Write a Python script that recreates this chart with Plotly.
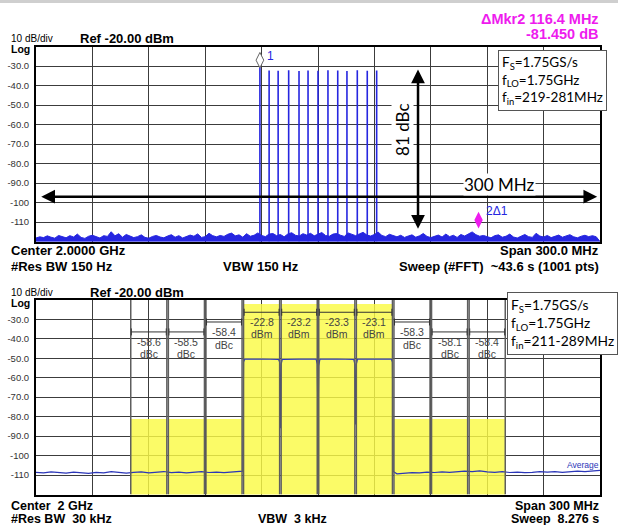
import plotly.graph_objects as go

# ---------------- data: top chart (multitone FFT sweep) ----------------
top_span = [1850, 2150]            # MHz  (center 2.0 GHz, span 300 MHz)
y_ticks = [-30, -40, -50, -60, -70, -80, -90, -100, -110]
y_tick_text = ["-30.0", "-40.0", "-50.0", "-60.0", "-70.0", "-80.0", "-90.0", "-100", "-110"]

tone_freq = [1969.1, 1974.0, 1978.8, 1984.4, 1989.9, 1994.7, 2000.0,
             2005.3, 2010.5, 2015.4, 2020.9, 2026.2, 2031.2]
tone_peak = [-30.6, -32.3, -32.4, -32.2, -32.5, -32.3, -32.4,
             -32.2, -32.3, -32.5, -32.2, -32.4, -32.3]

top_noise = [
    -118.2, -117.6, -118.0, -117.1, -117.8, -118.3, -116.9, -117.5, -118.1, -117.0,
    -117.7, -116.2, -117.9, -118.4, -117.3, -116.8, -117.6, -118.2, -117.0, -117.4,
    -115.0, -117.1, -116.0, -117.8, -116.4, -117.2, -118.0, -117.5, -116.6, -117.9,
    -118.3, -117.4, -116.9, -117.7, -118.1, -117.2, -116.5, -117.8, -117.0, -118.2,
    -117.6, -116.7, -117.3, -116.1, -117.9, -117.5, -115.8, -117.0, -117.6, -116.9,
    -117.4, -116.3, -115.7, -117.1, -116.6, -117.8, -116.0, -117.3, -116.8, -115.6,
    -116.9, -117.5, -116.2, -115.9, -117.0, -116.4, -117.6, -116.1, -115.5, -116.8,
    -117.2, -116.0, -116.7, -115.8, -117.1, -116.3, -115.4, -116.9, -117.3, -116.2,
    -115.9, -116.8, -117.4, -115.6, -116.5, -117.0, -116.1, -115.3, -116.7, -117.2,
    -116.4, -115.2, -116.9, -117.5, -116.3, -117.0, -117.6, -116.8, -117.9, -117.2,
    -116.6, -117.8, -117.1, -115.9, -117.4, -118.0, -117.3, -116.7, -117.7, -116.2,
    -117.5, -116.8, -117.9, -116.4, -117.2, -116.0, -115.1, -116.5, -117.3, -116.9,
    -117.6, -118.1, -117.0, -116.6, -117.8, -117.3, -116.2, -117.7, -118.2, -117.1,
    -116.4, -117.5, -117.9, -115.8, -117.2, -117.7, -116.9, -118.0, -117.4, -116.7,
    -117.8, -117.1, -116.5, -117.6, -118.1, -117.3, -116.8, -117.5, -117.0, -117.6,
]
top_noise_step = 2.0  # MHz between noise samples

mkr1 = (1969.1, -27.0)
mkr2 = (2085.4, -109.0)
dbc_arrow = (2053.2, -31.0, -113.5)      # x, top, bottom
span_arrow = (1852.0, 2148.5, -97.0)     # x0, x1, level

# ---------------- data: bottom chart (ACLR, 4 carriers) ----------------
chan_start = [1900, 1920, 1940, 1960, 1980, 2000, 2020, 2040, 2060, 2080]
chan_bw = 20.0
chan_bar_top = [-81.0, -81.0, -81.0, -21.8, -21.8, -21.8, -21.8, -81.0, -81.0, -81.0]
chan_value = ["-58.6", "-58.5", "-58.4", "-22.8", "-23.2", "-23.3", "-23.1", "-58.3", "-58.1", "-58.4"]
chan_unit = ["dBc", "dBc", "dBc", "dBm", "dBm", "dBm", "dBm", "dBc", "dBc", "dBc"]

low_noise = [-108.6, -108.9, -108.4, -108.8, -109.0, -108.5, -108.7, -109.1, -108.6, -108.9,
             -108.3, -108.8, -109.0, -108.6, -108.4, -108.9, -108.7, -108.2, -108.8, -108.5,
             -108.9, -108.6, -108.3, -108.7, -108.5, -108.8, -108.4, -107.9]
carrier_f = [1960.0, 1960.4, 1961.0, 1970.0, 1979.0, 1979.6, 1980.0, 1980.4, 1981.0, 1990.0,
             1999.0, 1999.6, 2000.0, 2000.4, 2001.0, 2010.0, 2019.0, 2019.6, 2020.0, 2020.4,
             2021.0, 2030.0, 2039.0, 2039.6, 2040.0]
carrier_db = [-108.0, -52.0, -50.5, -50.4, -50.6, -52.0, -86.0, -53.0, -50.6, -50.5,
              -50.5, -53.0, -87.0, -54.0, -50.5, -50.4, -50.6, -53.0, -84.0, -53.0,
              -50.5, -50.5, -50.4, -52.0, -108.2]
high_noise = [-109.4, -109.0, -108.8, -108.9, -108.5, -108.7, -108.4, -108.6, -108.2, -108.0,
              -108.3, -107.9, -108.4, -108.6, -108.3, -108.7, -108.5, -108.8, -108.6, -108.3,
              -108.5, -108.2, -108.6, -108.4, -108.0, -108.3, -107.8, -107.6]
noise_step = 4.0

# ---------------- layout helpers ----------------
W, H = 618, 525
def px(x):
    return x / W
def py(y):
    return 1 - y / H

X0, X1 = 36, 600
TOP1, BOT1 = 46.5, 241.5
TOP2, BOT2 = 299.8, 494.5

FONT = "Liberation Sans, Arial, sans-serif"
FONT2 = "Lato, Open Sans, sans-serif"
BLUE = "#2626e0"
DBLUE = "#2b36b8"
MAG = "#ee1bee"

fig = go.Figure()

# ---- top: noise floor (filled) ----
nf = [top_span[0] + top_noise_step * i for i in range(len(top_noise))]
fig.add_trace(go.Scatter(
    x=nf + [top_span[1], top_span[0]], y=top_noise + [-120, -120],
    fill="toself", fillcolor=BLUE, mode="lines",
    line=dict(color=BLUE, width=1), xaxis="x", yaxis="y", hoverinfo="skip"))

# ---- top: tones ----
tx, ty = [], []
for f, p in zip(tone_freq, tone_peak):
    tx += [f, f, None]
    ty += [-120, p, None]
fig.add_trace(go.Scatter(x=tx, y=ty, mode="lines", line=dict(color=BLUE, width=1.6),
                         xaxis="x", yaxis="y", hoverinfo="skip"))

# ---- top: markers ----
fig.add_trace(go.Scatter(x=[mkr1[0]], y=[mkr1[1]], mode="markers",
                         marker=dict(symbol="diamond-tall", size=11, color="white",
                                     line=dict(color="#666666", width=1)),
                         xaxis="x", yaxis="y", hoverinfo="skip"))
fig.add_trace(go.Scatter(x=[mkr2[0]], y=[mkr2[1]], mode="markers",
                         marker=dict(symbol="diamond-tall", size=12, color=MAG,
                                     line=dict(color=MAG, width=0)),
                         xaxis="x", yaxis="y", hoverinfo="skip"))

# ---- bottom: yellow channel bars ----
centers = [s + chan_bw / 2 for s in chan_start]
fig.add_trace(go.Bar(x=centers, y=[t + 120 for t in chan_bar_top], base=-120,
                     width=chan_bw - 0.8,
                     marker=dict(color="rgba(250,250,70,0.82)", line=dict(width=0)),
                     xaxis="x2", yaxis="y2", hoverinfo="skip"))

# ---- bottom: trace ----
lf = [top_span[0] + noise_step * i for i in range(len(low_noise))]
hf = [2042 + noise_step * i for i in range(len(high_noise))]
fig.add_trace(go.Scatter(x=lf + carrier_f + hf, y=low_noise + carrier_db + high_noise,
                         mode="lines", line=dict(color=DBLUE, width=1.2),
                         xaxis="x2", yaxis="y2", hoverinfo="skip"))

# ---- bottom: channel edge lines ----
lx, ly = [], []
for s in chan_start:
    for f in (s + 0.4, s + chan_bw - 0.4):
        lx += [f, f, None]
        ly += [-120, -20, None]
fig.add_trace(go.Scatter(x=lx, y=ly, mode="lines", line=dict(color="#5e5e5e", width=1.5),
                         xaxis="x2", yaxis="y2", hoverinfo="skip"))

# ---- bottom: brackets + labels ----
annotations = []
for i, s in enumerate(chan_start):
    c = s + chan_bw / 2
    if chan_unit[i] == "dBm":
        lvl, t1, t2 = -26.4, -31.6, -37.4
    elif s in (1940, 2040):
        lvl, t1, t2 = -31.4, -36.5, -43.2
    else:
        lvl, t1, t2 = -36.5, -41.9, -47.9
    fig.add_trace(go.Scatter(x=[s + 0.7, s + chan_bw - 0.7], y=[lvl, lvl], mode="lines+markers",
                             line=dict(color="#333333", width=1),
                             marker=dict(symbol="line-ns", size=5, line=dict(color="#333333", width=1)),
                             xaxis="x2", yaxis="y2", hoverinfo="skip"))
    annotations.append(dict(x=c, y=t1, xref="x2", yref="y2", text=chan_value[i], showarrow=False,
                            font=dict(family=FONT, size=10.5, color="#444444")))
    annotations.append(dict(x=c, y=t2, xref="x2", yref="y2", text=chan_unit[i], showarrow=False,
                            font=dict(family=FONT, size=10.5, color="#444444")))

# ---- top annotations: arrows ----
for (xa, ya, xb, yb) in [(dbc_arrow[0], dbc_arrow[2], dbc_arrow[0], dbc_arrow[1]),
                         (span_arrow[1], span_arrow[2], span_arrow[0], span_arrow[2])]:
    annotations.append(dict(x=xa, y=ya, ax=xb, ay=yb,
                            xref="x", yref="y", axref="x", ayref="y", text="", showarrow=True,
                            arrowside="end+start", arrowhead=2, startarrowhead=2, arrowsize=1.1,
                            startarrowsize=1.1, arrowwidth=2.5, arrowcolor="black", standoff=0,
                            startstandoff=0))
annotations.append(dict(x=2045.2, y=-62.8, xref="x", yref="y", text="81 dBc", textangle=-90,
                        showarrow=False, bgcolor="white", borderpad=0,
                        font=dict(family=FONT2, size=17, color="black")))
annotations.append(dict(x=2096.6, y=-90.7, xref="x", yref="y", text="300 MHz",
                        showarrow=False, bgcolor="white", borderpad=0,
                        font=dict(family=FONT2, size=17, color="black")))
annotations.append(dict(x=mkr1[0], y=mkr1[1], xref="x", yref="y", text="1", showarrow=False,
                        xanchor="left", xshift=5, yshift=4,
                        font=dict(family=FONT, size=12, color=BLUE)))
annotations.append(dict(x=mkr2[0], y=mkr2[1], xref="x", yref="y", text="2\u03941", showarrow=False,
                        xanchor="left", xshift=5, yshift=9,
                        font=dict(family=FONT, size=12, color=BLUE)))

# ---- legend boxes ----
annotations.append(dict(x=px(498), y=py(50), xref="paper", yref="paper", xanchor="left", yanchor="top",
                        text="F<sub>S</sub>=1.75GS/s<br>f<sub>LO</sub>=1.75GHz<br>f<sub>in</sub>=219-281MHz",
                        align="left", showarrow=False, bgcolor="white", bordercolor="#555555",
                        borderwidth=1, borderpad=3,
                        font=dict(family=FONT2, size=13.5, color="black")))
annotations.append(dict(x=px(507), y=py(292), xref="paper", yref="paper", xanchor="left", yanchor="top",
                        text="F<sub>S</sub>=1.75GS/s<br>f<sub>LO</sub>=1.75GHz<br>f<sub>in</sub>=211-289MHz",
                        align="left", showarrow=False, bgcolor="white", bordercolor="#555555",
                        borderwidth=1, borderpad=3,
                        font=dict(family=FONT2, size=13.8, color="black")))

# ---- header / footer texts ----
def txt(x, y, s, size, anchor="left", color="black", bold=False, family=FONT):
    if bold:
        s = "<b>" + s + "</b>"
    annotations.append(dict(x=px(x), y=py(y), xref="paper", yref="paper", text=s, showarrow=False,
                            xanchor=anchor, yanchor="middle", borderpad=0,
                            font=dict(family=family, size=size, color=color)))

txt(600, 18.5, "\u0394Mkr2 116.4 MHz", 14.5, "right", MAG, True)
txt(600, 34, "-81.450 dB", 14.5, "right", MAG, True)
for base in (0, 254):
    txt(10, 38 + base, "10 dB/div", 10)
    txt(10, 49 + base, "Log", 10.5, bold=True)
txt(79, 38, "Ref -20.00 dBm", 13, bold=True)
txt(89, 292, "Ref -20.00 dBm", 13, bold=True)

txt(10, 250.5, "Center 2.0000 GHz", 13, bold=True)
txt(10, 266, "#Res BW 150 Hz", 13, bold=True)
txt(222, 266, "VBW 150 Hz", 13, bold=True)
txt(600, 250.5, "Span 300.0 MHz", 13, "right", bold=True)
txt(600, 266, "Sweep (#FFT)  ~43.6 s (1001 pts)", 13, "right", bold=True)

txt(10, 505.5, "Center  2 GHz", 12.5, bold=True)
txt(10, 519, "#Res BW  30 kHz", 12.5, bold=True)
txt(257, 519, "VBW  3 kHz", 12.5, bold=True)
txt(600, 505.5, "Span 300 MHz", 12.5, "right", bold=True)
txt(600, 519, "Sweep  8.276 s", 12.5, "right", bold=True)
txt(600, 465, "Average", 8.5, "right", DBLUE)

# ---- axes ----
def xax(anchor):
    return dict(domain=[px(X0), px(X1)], range=top_span, anchor=anchor, showgrid=True,
                gridcolor="#3c3c3c", gridwidth=1, dtick=30, tick0=top_span[0],
                showticklabels=False, ticks="", zeroline=False, showline=True, mirror=True,
                linecolor="black", linewidth=2, fixedrange=True)

def yax(top, bot, anchor):
    return dict(domain=[py(bot), py(top)], range=[-120, -20], anchor=anchor, showgrid=True,
                gridcolor="#3c3c3c", gridwidth=1, tickmode="array", tickvals=y_ticks,
                ticktext=y_tick_text, ticks="", ticklabelstandoff=3,
                tickfont=dict(family=FONT, size=9.5, color="#333333"),
                zeroline=False, showline=True, mirror=True, linecolor="black", linewidth=2,
                fixedrange=True)

fig.update_layout(
    width=W, height=H, margin=dict(l=0, r=0, t=0, b=0),
    paper_bgcolor="white", plot_bgcolor="white", showlegend=False,
    xaxis=xax("y"), yaxis=yax(TOP1, BOT1, "x"),
    xaxis2=xax("y2"), yaxis2=yax(TOP2, BOT2, "x2"),
    annotations=annotations, bargap=0,
    shapes=[dict(type="rect", xref="paper", yref="paper", x0=0, x1=1, y0=py(3), y1=1,
                 fillcolor="#cfcfcf", line=dict(width=0), layer="below")],
)

fig.write_html("out.html")
